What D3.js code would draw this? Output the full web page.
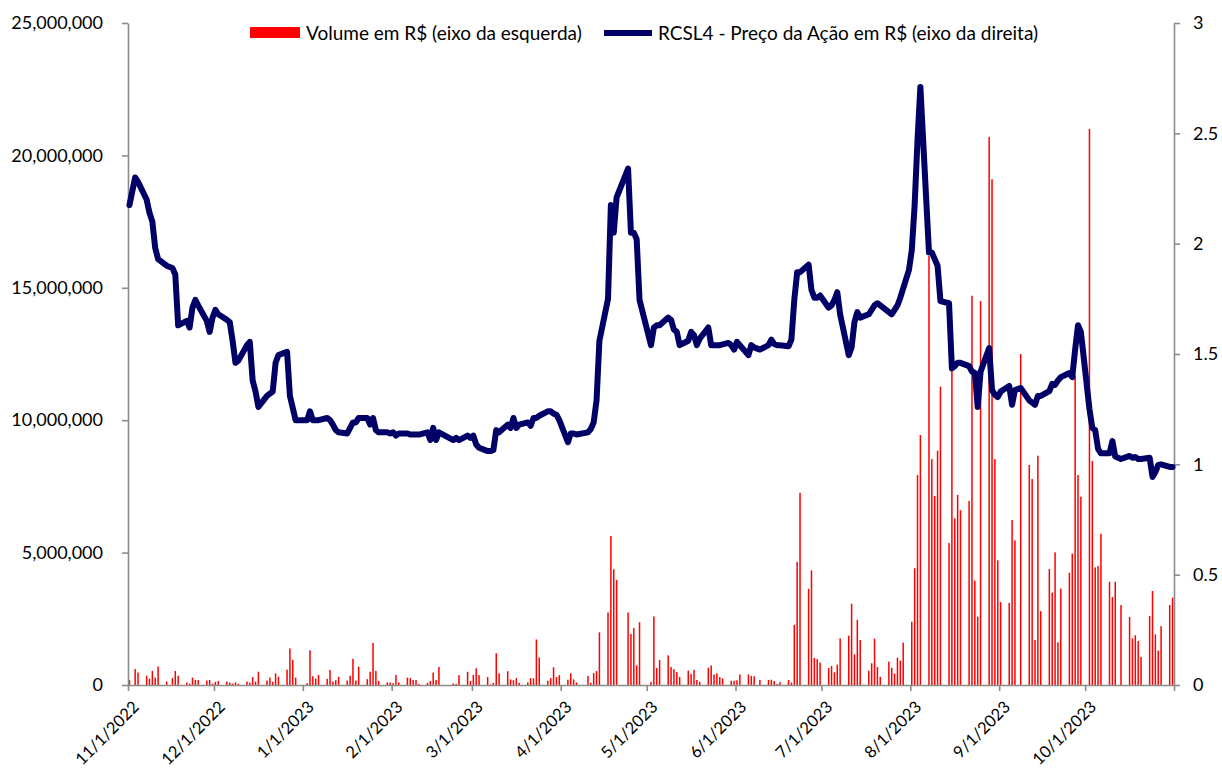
<!DOCTYPE html>
<html>
<head>
<meta charset="utf-8">
<script src="https://cdn.jsdelivr.net/npm/d3@7"></script>
<style>
  html, body { margin: 0; padding: 0; background: #fff; }
  svg { display: block; }
  text { font-family: Lato, "Open Sans", sans-serif; fill: #000; }
</style>
</head>
<body>
<svg id="chart" width="1222" height="773"></svg>
<script>
// ---- DATA ----
const seriesNames = ["Volume em R$ (eixo da esquerda)", "RCSL4 - Preço da Ação em R$ (eixo da direita)"];

const volumeDates = [
  "2022-11-01","2022-11-03","2022-11-04","2022-11-07","2022-11-08","2022-11-09","2022-11-10","2022-11-11","2022-11-14","2022-11-16","2022-11-17","2022-11-18","2022-11-21","2022-11-22","2022-11-23","2022-11-24","2022-11-25","2022-11-28","2022-11-29","2022-11-30",
  "2022-12-01","2022-12-02","2022-12-05","2022-12-06","2022-12-07","2022-12-08","2022-12-09","2022-12-12","2022-12-13","2022-12-14","2022-12-15","2022-12-16","2022-12-19","2022-12-20","2022-12-21","2022-12-22","2022-12-23","2022-12-26","2022-12-27","2022-12-28","2022-12-29",
  "2023-01-02","2023-01-03","2023-01-04","2023-01-05","2023-01-06","2023-01-09","2023-01-10","2023-01-11","2023-01-12","2023-01-13","2023-01-16","2023-01-17","2023-01-18","2023-01-19","2023-01-20","2023-01-23","2023-01-24","2023-01-25","2023-01-26","2023-01-27","2023-01-30","2023-01-31",
  "2023-02-01","2023-02-02","2023-02-03","2023-02-06","2023-02-07","2023-02-08","2023-02-09","2023-02-10","2023-02-13","2023-02-14","2023-02-15","2023-02-16","2023-02-17","2023-02-22","2023-02-23","2023-02-24","2023-02-27","2023-02-28",
  "2023-03-01","2023-03-02","2023-03-03","2023-03-06","2023-03-07","2023-03-08","2023-03-09","2023-03-10","2023-03-13","2023-03-14","2023-03-15","2023-03-16","2023-03-17","2023-03-20","2023-03-21","2023-03-22","2023-03-23","2023-03-24","2023-03-27","2023-03-28","2023-03-29","2023-03-30","2023-03-31",
  "2023-04-03","2023-04-04","2023-04-05","2023-04-06","2023-04-10","2023-04-11","2023-04-12","2023-04-13","2023-04-14","2023-04-17","2023-04-18","2023-04-19","2023-04-20","2023-04-24","2023-04-25","2023-04-26","2023-04-27","2023-04-28",
  "2023-05-02","2023-05-03","2023-05-04","2023-05-05","2023-05-08","2023-05-09","2023-05-10","2023-05-11","2023-05-12","2023-05-15","2023-05-16","2023-05-17","2023-05-18","2023-05-19","2023-05-22","2023-05-23","2023-05-24","2023-05-25","2023-05-26","2023-05-27","2023-05-30","2023-05-31",
  "2023-06-01","2023-06-02","2023-06-05","2023-06-06","2023-06-07","2023-06-09","2023-06-12","2023-06-13","2023-06-14","2023-06-15","2023-06-16","2023-06-19","2023-06-20","2023-06-21","2023-06-22","2023-06-23","2023-06-26","2023-06-27","2023-06-28","2023-06-29","2023-06-30",
  "2023-07-03","2023-07-04","2023-07-05","2023-07-06","2023-07-07","2023-07-10","2023-07-11","2023-07-12","2023-07-13","2023-07-14","2023-07-17","2023-07-18","2023-07-19","2023-07-20","2023-07-21","2023-07-24","2023-07-25","2023-07-26","2023-07-27","2023-07-28","2023-07-29",
  "2023-08-01","2023-08-02","2023-08-03","2023-08-04","2023-08-07","2023-08-08","2023-08-09","2023-08-10","2023-08-11","2023-08-14","2023-08-15","2023-08-16","2023-08-17","2023-08-18","2023-08-21","2023-08-22","2023-08-23","2023-08-24","2023-08-25","2023-08-28","2023-08-29","2023-08-30","2023-08-31",
  "2023-09-01","2023-09-04","2023-09-05","2023-09-06","2023-09-08","2023-09-11","2023-09-12","2023-09-13","2023-09-14","2023-09-15","2023-09-18","2023-09-19","2023-09-20","2023-09-21","2023-09-22","2023-09-25","2023-09-26","2023-09-27","2023-09-28","2023-09-29",
  "2023-10-02","2023-10-03","2023-10-04","2023-10-05","2023-10-06","2023-10-09","2023-10-10","2023-10-11","2023-10-13","2023-10-16","2023-10-17","2023-10-18","2023-10-19","2023-10-20","2023-10-23","2023-10-24","2023-10-25","2023-10-26","2023-10-27","2023-10-30","2023-10-31"
];
// volume in millions of R$
const volumeMillions = [
  0.19,0.60,0.47,0.35,0.24,0.53,0.28,0.70,0.13,0.26,0.53,0.35,0.09,0.05,0.28,0.19,0.19,0.17,0.19,0.05,
  0.12,0.15,0.13,0.09,0.05,0.10,0.05,0.13,0.09,0.30,0.13,0.50,0.17,0.28,0.12,0.44,0.31,0.58,1.38,0.94,0.28,
  0.07,1.31,0.33,0.24,0.38,0.23,0.57,0.13,0.18,0.31,0.17,0.35,0.99,0.17,0.69,0.22,0.50,1.59,0.53,0.15,0.10,0.09,
  0.07,0.38,0.10,0.28,0.26,0.19,0.19,0.04,0.08,0.15,0.47,0.19,0.68,0.06,0.04,0.37,0.50,0.15,
  0.38,0.63,0.37,0.30,0.02,0.08,1.20,0.44,0.52,0.21,0.18,0.26,0.08,0.10,0.26,0.25,1.72,1.04,0.16,0.26,0.67,0.30,0.37,
  0.20,0.44,0.21,0.10,0.34,0.09,0.45,0.53,1.99,2.74,5.63,4.37,3.97,2.74,1.93,2.15,0.74,2.37,
  0.11,2.59,0.64,0.94,1.12,0.68,0.60,0.49,0.30,0.54,0.42,0.57,0.19,0.12,0.65,0.74,0.40,0.44,0.30,0.25,0.16,0.16,
  0.18,0.40,0.40,0.34,0.33,0.19,0.19,0.20,0.15,0.04,0.11,0.19,0.09,2.27,4.65,7.26,3.63,4.33,1.02,0.98,0.85,
  0.64,0.72,0.48,0.77,1.76,1.86,3.07,1.16,2.46,1.70,0.54,0.82,1.75,0.68,0.31,0.88,0.65,0.43,1.03,0.92,1.60,
  2.39,4.41,7.93,9.44,16.2,8.53,7.14,8.85,11.27,5.36,11.9,6.29,7.18,6.60,6.95,14.7,3.94,2.58,14.5,20.7,19.1,8.53,4.71,
  3.13,3.10,6.23,5.46,12.5,8.31,7.78,1.70,8.66,2.79,4.38,3.49,5.01,1.61,3.64,4.24,4.96,11.7,7.93,7.11,
  21.0,8.46,4.44,4.49,5.71,3.90,3.32,3.90,3.02,2.57,1.76,1.88,1.66,1.06,2.61,3.55,1.91,1.30,2.22,3.02,3.30
];

const priceDates = [
  "2022-11-01","2022-11-03","2022-11-04","2022-11-07","2022-11-08","2022-11-09","2022-11-10","2022-11-11","2022-11-14","2022-11-16","2022-11-17","2022-11-18","2022-11-21","2022-11-22","2022-11-23","2022-11-24","2022-11-25","2022-11-28","2022-11-29","2022-11-30",
  "2022-12-01","2022-12-02","2022-12-05","2022-12-06","2022-12-07","2022-12-08","2022-12-09","2022-12-12","2022-12-13","2022-12-14","2022-12-15","2022-12-16","2022-12-19","2022-12-20","2022-12-21","2022-12-22","2022-12-23","2022-12-26","2022-12-27","2022-12-28","2022-12-29",
  "2023-01-02","2023-01-03","2023-01-04","2023-01-05","2023-01-06","2023-01-09","2023-01-10","2023-01-11","2023-01-12","2023-01-13","2023-01-16","2023-01-17","2023-01-18","2023-01-19","2023-01-20","2023-01-23","2023-01-24","2023-01-25","2023-01-26","2023-01-27","2023-01-30","2023-01-31",
  "2023-02-01","2023-02-02","2023-02-03","2023-02-06","2023-02-07","2023-02-08","2023-02-09","2023-02-10","2023-02-13","2023-02-14","2023-02-15","2023-02-16","2023-02-17","2023-02-22","2023-02-23","2023-02-24","2023-02-27","2023-02-28",
  "2023-03-01","2023-03-02","2023-03-03","2023-03-06","2023-03-07","2023-03-08","2023-03-09","2023-03-10","2023-03-13","2023-03-14","2023-03-15","2023-03-16","2023-03-17","2023-03-20","2023-03-21","2023-03-22","2023-03-23","2023-03-24","2023-03-27","2023-03-28","2023-03-29","2023-03-30","2023-03-31",
  "2023-04-03","2023-04-04","2023-04-05","2023-04-06","2023-04-10","2023-04-11","2023-04-12","2023-04-13","2023-04-14","2023-04-17","2023-04-18","2023-04-19","2023-04-20","2023-04-24","2023-04-25","2023-04-26","2023-04-27","2023-04-28",
  "2023-05-02","2023-05-03","2023-05-04","2023-05-05","2023-05-08","2023-05-09","2023-05-10","2023-05-11","2023-05-12","2023-05-15","2023-05-16","2023-05-17","2023-05-18","2023-05-19","2023-05-22","2023-05-23","2023-05-24","2023-05-25","2023-05-26","2023-05-29","2023-05-30","2023-05-31",
  "2023-06-01","2023-06-02","2023-06-05","2023-06-06","2023-06-07","2023-06-09","2023-06-12","2023-06-13","2023-06-14","2023-06-15","2023-06-16","2023-06-19","2023-06-20","2023-06-21","2023-06-22","2023-06-23","2023-06-26","2023-06-27","2023-06-28","2023-06-29","2023-06-30",
  "2023-07-03","2023-07-04","2023-07-05","2023-07-06","2023-07-07","2023-07-10","2023-07-11","2023-07-12","2023-07-13","2023-07-14","2023-07-17","2023-07-18","2023-07-19","2023-07-20","2023-07-21","2023-07-24","2023-07-25","2023-07-26","2023-07-27","2023-07-28","2023-07-31",
  "2023-08-01","2023-08-02","2023-08-03","2023-08-04","2023-08-07","2023-08-08","2023-08-09","2023-08-10","2023-08-11","2023-08-14","2023-08-15","2023-08-16","2023-08-17","2023-08-18","2023-08-21","2023-08-22","2023-08-23","2023-08-24","2023-08-25","2023-08-28","2023-08-29","2023-08-30","2023-08-31",
  "2023-09-01","2023-09-04","2023-09-05","2023-09-06","2023-09-08","2023-09-11","2023-09-12","2023-09-13","2023-09-14","2023-09-15","2023-09-18","2023-09-19","2023-09-20","2023-09-21","2023-09-22","2023-09-25","2023-09-26","2023-09-27","2023-09-28","2023-09-29",
  "2023-10-02","2023-10-03","2023-10-04","2023-10-05","2023-10-06","2023-10-09","2023-10-10","2023-10-11","2023-10-13","2023-10-16","2023-10-17","2023-10-18","2023-10-19","2023-10-20","2023-10-23","2023-10-24","2023-10-25","2023-10-26","2023-10-27","2023-10-30","2023-10-31"
];
const priceValues = [
  2.175,2.30,2.28,2.20,2.14,2.10,1.98,1.93,1.90,1.89,1.86,1.63,1.65,1.62,1.71,1.745,1.72,1.65,1.60,1.665,
  1.70,1.68,1.655,1.645,1.56,1.46,1.47,1.54,1.555,1.38,1.33,1.26,1.31,1.32,1.33,1.46,1.495,1.51,1.31,1.255,1.20,
  1.20,1.24,1.20,1.20,1.20,1.21,1.20,1.18,1.155,1.145,1.14,1.165,1.19,1.19,1.21,1.21,1.18,1.21,1.155,1.145,1.145,1.14,
  1.145,1.13,1.14,1.14,1.135,1.135,1.135,1.135,1.145,1.11,1.165,1.11,1.145,1.11,1.12,1.11,1.13,1.12,
  1.13,1.09,1.075,1.06,1.06,1.065,1.155,1.145,1.18,1.165,1.21,1.165,1.18,1.19,1.175,1.21,1.21,1.22,1.24,1.24,1.23,1.225,1.20,
  1.10,1.14,1.14,1.135,1.145,1.16,1.19,1.29,1.56,1.75,2.175,2.05,2.21,2.34,2.05,2.05,2.02,1.745,
  1.54,1.62,1.63,1.63,1.665,1.655,1.61,1.60,1.54,1.56,1.60,1.585,1.54,1.57,1.62,1.54,1.54,1.54,1.54,1.55,1.54,1.52,
  1.555,1.54,1.495,1.54,1.53,1.52,1.54,1.565,1.545,1.54,1.54,1.535,1.565,1.745,1.87,1.87,1.905,1.79,1.755,1.755,1.765,
  1.71,1.72,1.745,1.78,1.68,1.495,1.53,1.645,1.69,1.665,1.68,1.70,1.72,1.73,1.72,1.69,1.68,1.70,1.72,1.755,1.88,
  1.97,2.175,2.47,2.71,1.96,1.96,1.93,1.90,1.74,1.73,1.435,1.445,1.46,1.46,1.445,1.42,1.415,1.26,1.42,1.527,1.337,1.315,1.305,
  1.33,1.355,1.27,1.337,1.346,1.29,1.28,1.27,1.31,1.31,1.332,1.365,1.36,1.38,1.395,1.414,1.395,1.52,1.63,1.60,
  1.25,1.165,1.155,1.07,1.05,1.05,1.105,1.035,1.024,1.038,1.03,1.033,1.024,1.024,1.03,0.943,0.965,0.997,1.0,0.988,0.988
];

const leftTicks = [0, 5000000, 10000000, 15000000, 20000000, 25000000];
const rightTicks = [0, 0.5, 1, 1.5, 2, 2.5, 3];
const monthTicks = ["2022-11-01","2022-12-01","2023-01-01","2023-02-01","2023-03-01","2023-04-01","2023-05-01","2023-06-01","2023-07-01","2023-08-01","2023-09-01","2023-10-01","2023-11-01"];
const monthLabels = ["11/1/2022","12/1/2022","1/1/2023","2/1/2023","3/1/2023","4/1/2023","5/1/2023","6/1/2023","7/1/2023","8/1/2023","9/1/2023","10/1/2023"];

// ---- CHART ----
const parse = d3.timeParse("%Y-%m-%d");
const halfDay = 12 * 3600 * 1000;
const svg = d3.select("#chart");
const plot = { left: 128, right: 1174, top: 23, bottom: 685 };
const AXIS = "#8c8c8c";
const RED = "#ff0000";
const NAVY = "#000066";

const x = d3.scaleTime()
  .domain([parse(monthTicks[0]), parse(monthTicks[monthTicks.length - 1])])
  .range([plot.left, plot.right]);
const yL = d3.scaleLinear().domain([0, 25000000]).range([plot.bottom, plot.top]);
const yR = d3.scaleLinear().domain([0, 3]).range([plot.bottom, plot.top]);

svg.append("rect").attr("width", 1222).attr("height", 773).attr("fill", "#fff");

// bars
const bars = volumeDates.map((d, i) => ({ date: parse(d), v: volumeMillions[i] * 1e6 }));
svg.append("g").selectAll("rect").data(bars).join("rect")
  .attr("x", d => x(new Date(+d.date + halfDay)) - 0.75)
  .attr("width", 1.5)
  .attr("y", d => yL(d.v))
  .attr("height", d => yL(0) - yL(d.v))
  .attr("fill", RED);

// axes
function styleAxis(g) {
  g.select(".domain").attr("stroke", AXIS).attr("stroke-width", 1.6);
  g.selectAll(".tick line").attr("stroke", AXIS).attr("stroke-width", 1.6);
  g.selectAll(".tick text").attr("font-family", "Lato, 'Open Sans', sans-serif").attr("font-size", 18).attr("fill", "#000");
}
const axL = svg.append("g").attr("transform", `translate(${plot.left},0)`)
  .call(d3.axisLeft(yL).tickValues(leftTicks).tickFormat(d3.format(",")).tickSize(6).tickPadding(19).tickSizeOuter(0));
styleAxis(axL);
const axR = svg.append("g").attr("transform", `translate(${plot.right},0)`)
  .call(d3.axisRight(yR).tickValues(rightTicks).tickFormat(d => String(d)).tickSize(6).tickPadding(13).tickSizeOuter(0));
styleAxis(axR);
const axB = svg.append("g").attr("transform", `translate(0,${plot.bottom})`)
  .call(d3.axisBottom(x).tickValues(monthTicks.map(parse)).tickFormat("").tickSize(6).tickSizeOuter(0));
styleAxis(axB);

svg.append("g").selectAll("text").data(monthLabels).join("text")
  .attr("transform", (d, i) => `translate(${x(parse(monthTicks[i])) + 8},${plot.bottom + 19}) rotate(-45)`)
  .attr("text-anchor", "end")
  .attr("dy", "0.35em")
  .attr("font-size", 16.5)
  .text(d => d);

// price line
const pts = priceDates.map((d, i) => ({ date: parse(d), p: priceValues[i] }));
svg.append("path").datum(pts)
  .attr("d", d3.line().x(d => x(new Date(+d.date + halfDay))).y(d => yR(d.p)))
  .attr("fill", "none")
  .attr("stroke", NAVY)
  .attr("stroke-width", 6)
  .attr("stroke-linejoin", "round")
  .attr("stroke-linecap", "round");

// legend
const lg = svg.append("g");
lg.append("rect").attr("x", 250).attr("y", 27).attr("width", 50).attr("height", 11).attr("fill", RED);
lg.append("text").attr("x", 306).attr("y", 33).attr("dy", "0.35em").attr("font-size", 19).text(seriesNames[0]);
lg.append("line").attr("x1", 604).attr("x2", 652).attr("y1", 33).attr("y2", 33)
  .attr("stroke", NAVY).attr("stroke-width", 6);
lg.append("text").attr("x", 658).attr("y", 33).attr("dy", "0.35em").attr("font-size", 19).text(seriesNames[1]);
</script>
</body>
</html>
